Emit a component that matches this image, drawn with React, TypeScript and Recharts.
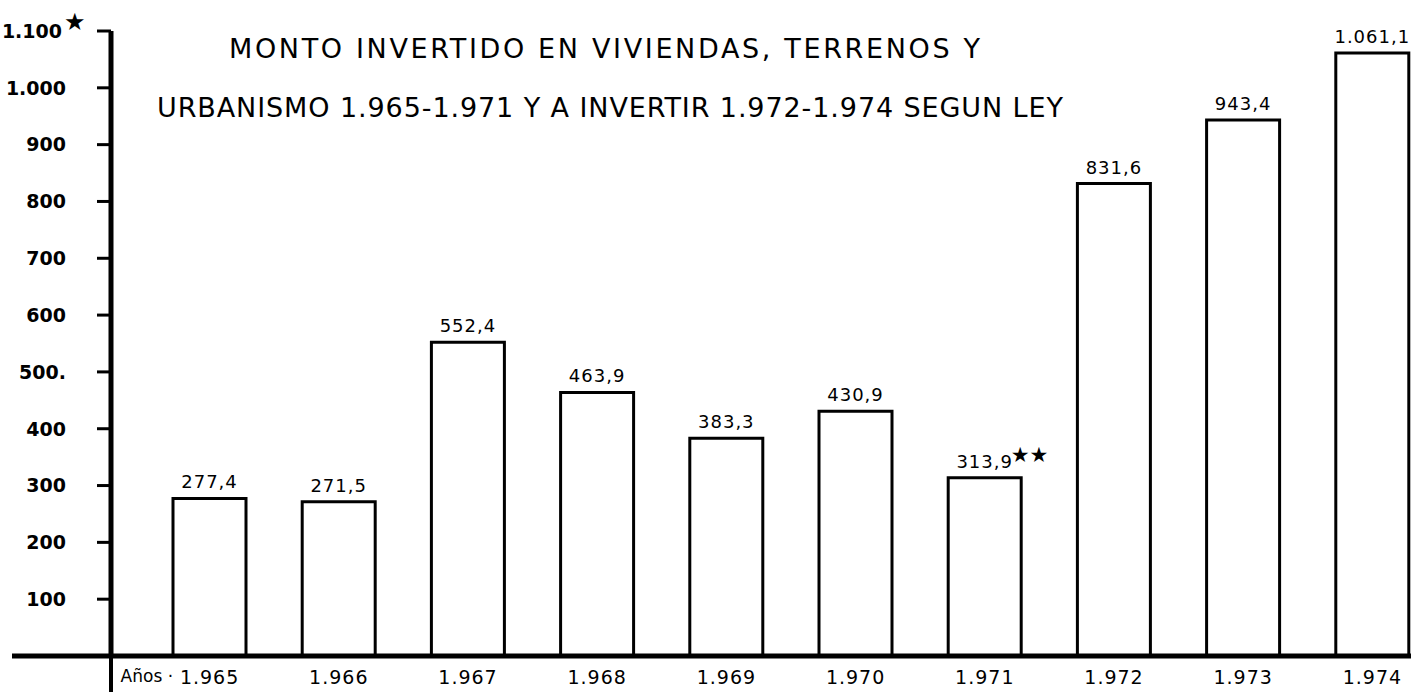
import { Bar, BarChart, LabelList, XAxis, YAxis } from 'recharts';

// ============ Data ============

const years = ['1.965', '1.966', '1.967', '1.968', '1.969', '1.970', '1.971', '1.972', '1.973', '1.974'];
const montos = [277.4, 271.5, 552.4, 463.9, 383.3, 430.9, 313.9, 831.6, 943.4, 1061.1];
const notas = ['', '', '', '', '', '', '★★', '', '', ''];

const yTicks = [0, 100, 200, 300, 400, 500, 600, 700, 800, 900, 1000, 1100];
const yTickLabels = ['', '100', '200', '300', '400', '500.', '600', '700', '800', '900', '1.000', '1.100'];
const yTopNote = '★';

const titleLines = [
  'MONTO INVERTIDO EN  VIVIENDAS, TERRENOS Y',
  'URBANISMO 1.965-1.971 Y A INVERTIR 1.972-1.974 SEGUN  LEY',
];

const data = years.map((year, i) => ({ year, monto: montos[i], nota: notas[i] }));

// ============ Helpers ============

const FONT = '"DejaVu Sans", "Liberation Sans", sans-serif';

function fmt(v: number): string {
  const [int, dec] = v.toFixed(1).split('.');
  return `${int.replace(/\B(?=(\d{3})+(?!\d))/g, '.')},${dec}`;
}

const YTick = (props: any) => {
  const { x, y, payload } = props;
  const axisX = x + 45;
  if (payload.value === 0) {
    return (
      <g>
        <line x1={12} x2={axisX} y1={y} y2={y} stroke="#000" strokeWidth={5} />
        <line x1={axisX} x2={axisX} y1={y} y2={y + 40} stroke="#000" strokeWidth={4} />
      </g>
    );
  }
  const label = yTickLabels[yTicks.indexOf(payload.value)];
  const isTop = payload.value === yTicks[yTicks.length - 1];
  return (
    <g>
      <text x={x - (isTop ? 4 : 0)} y={y} dy="0.36em" textAnchor="end" fontFamily={FONT} fontWeight="bold" fontSize={19} fill="#000">
        {label}
      </text>
      {isTop && (
        <text x={x - 2} y={y - 1} textAnchor="start" fontFamily={FONT} fontSize={24} fill="#000">
          {yTopNote}
        </text>
      )}
    </g>
  );
};

const XTick = (props: any) => {
  const { x, y, payload, index } = props;
  return (
    <g>
      {index === 0 && (
        <text x={x - 89} y={y} dy="0.73em" textAnchor="start" fontFamily={FONT} fontSize={17} fill="#000">
          Años ·
        </text>
      )}
      <text x={x} y={y} dy="0.73em" textAnchor="middle" fontFamily={FONT} fontSize={19} letterSpacing={1} fill="#000">
        {payload.value}
      </text>
    </g>
  );
};

const BarLabel = (props: any) => {
  const { x, y, width, value, index } = props;
  const cx = x + width / 2;
  const nota = notas[index];
  return (
    <g>
      <text x={cx} y={y - 10} textAnchor="middle" fontFamily={FONT} fontSize={18} letterSpacing={1} fill="#000">
        {fmt(value)}
      </text>
      {nota && (
        <text x={cx + 26} y={y - 16} textAnchor="start" fontFamily={FONT} fontSize={21} fill="#000">
          {nota}
        </text>
      )}
    </g>
  );
};

// ============ Main Component ============

export default function App() {
  return (
    <div style={{ position: 'absolute', left: 0, top: 0, width: 1411, height: 692, overflow: 'hidden', background: '#fff' }}>
      <BarChart width={1437} height={692} data={data} margin={{ top: 31, right: 0, bottom: 0, left: 0 }}>
        <XAxis
          dataKey="year"
          height={36}
          padding={{ left: 34, right: 0 }}
          axisLine={{ stroke: '#000', strokeWidth: 5 }}
          tickLine={false}
          tickSize={0}
          tickMargin={14}
          tick={<XTick />}
          interval={0}
        />
        <YAxis
          width={111}
          domain={[0, 1100]}
          ticks={yTicks}
          interval={0}
          axisLine={{ stroke: '#000', strokeWidth: 5 }}
          tickLine={{ stroke: '#000', strokeWidth: 3 }}
          tickSize={14}
          tickMargin={31}
          tick={<YTick />}
        />
        <Bar dataKey="monto" fill="#fff" stroke="#000" strokeWidth={3} barSize={73} isAnimationActive={false}>
          <LabelList dataKey="monto" content={<BarLabel />} />
        </Bar>
      </BarChart>
      <svg width={1411} height={140} style={{ position: 'absolute', left: 0, top: 0, pointerEvents: 'none' }}>
        <text x={229} y={58} textLength={751} lengthAdjust="spacing" fontFamily={FONT} fontSize={27} fill="#000">
          {titleLines[0]}
        </text>
        <text x={157} y={117} textLength={906} lengthAdjust="spacing" fontFamily={FONT} fontSize={27} fill="#000">
          {titleLines[1]}
        </text>
      </svg>
    </div>
  );
}
